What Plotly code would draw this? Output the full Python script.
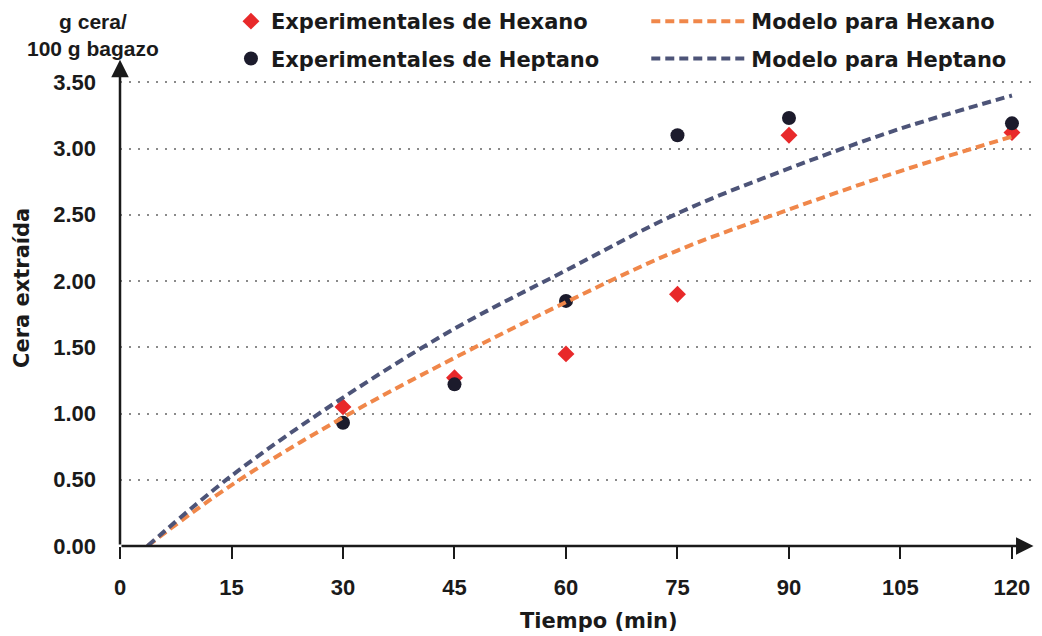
import plotly.graph_objects as go

# Experimental extraction data (g cera / 100 g bagazo)
tiempo_exp = [30, 45, 60, 75, 90, 120]
cera_hexano = [1.05, 1.27, 1.45, 1.90, 3.10, 3.12]
cera_heptano = [0.93, 1.22, 1.85, 3.10, 3.23, 3.19]

# Model curves
tiempo_modelo = [3.7, 15, 30, 45, 60, 75, 90, 105, 120]
modelo_hexano = [0.00, 0.46, 0.97, 1.42, 1.84, 2.23, 2.54, 2.83, 3.09]
modelo_heptano = [0.00, 0.53, 1.12, 1.64, 2.08, 2.51, 2.85, 3.15, 3.40]

x_ticks = [0, 15, 30, 45, 60, 75, 90, 105, 120]
y_ticks = [0.0, 0.5, 1.0, 1.5, 2.0, 2.5, 3.0, 3.5]

TICK_FONT = "Liberation Sans, Arial, sans-serif"
WIDE_FONT = "DejaVu Sans, Verdana, sans-serif"
INK = "#1a1a1a"
RED = "#e8292a"
NAVY = "#1c1b2c"
ORANGE = "#f0874a"
SLATE = "#4d5478"

fig = go.Figure()

fig.add_trace(go.Scatter(
    x=tiempo_exp, y=cera_hexano, mode="markers",
    name="Experimentales de Hexano", legend="legend", legendgroup="a",
    marker=dict(symbol="diamond", size=13, color=RED),
))
fig.add_trace(go.Scatter(
    x=tiempo_exp, y=cera_heptano, mode="markers",
    name="Experimentales de Heptano", legend="legend", legendgroup="b",
    marker=dict(symbol="circle", size=14, color=NAVY),
))
fig.add_trace(go.Scatter(
    x=tiempo_modelo, y=modelo_hexano, mode="lines",
    name="Modelo para Hexano", legend="legend2", legendgroup="c",
    line=dict(color=ORANGE, width=4, dash="9px,5px", shape="spline", smoothing=1.0),
))
fig.add_trace(go.Scatter(
    x=tiempo_modelo, y=modelo_heptano, mode="lines",
    name="Modelo para Heptano", legend="legend2", legendgroup="d",
    line=dict(color=SLATE, width=4, dash="9px,5px", shape="spline", smoothing=1.0),
))

legend_font = dict(family=WIDE_FONT, size=21, color=INK, weight="bold")
tick_font = dict(family=TICK_FONT, size=22, color=INK, weight="bold")

fig.update_layout(
    width=1042, height=636,
    margin=dict(l=120, r=11, t=62, b=90, autoexpand=False),
    paper_bgcolor="white", plot_bgcolor="white",
    showlegend=True,
    legend=dict(
        x=0.1218, y=1.126, xanchor="left", yanchor="top",
        font=legend_font, bgcolor="rgba(0,0,0,0)",
        traceorder="grouped", tracegroupgap=7, itemwidth=30,
    ),
    legend2=dict(
        x=0.5777, y=1.126, xanchor="left", yanchor="top",
        font=legend_font, bgcolor="rgba(0,0,0,0)",
        traceorder="grouped", tracegroupgap=7, itemwidth=95,
    ),
    xaxis=dict(
        range=[0, 122.56], tickvals=x_ticks, ticktext=[str(v) for v in x_ticks],
        ticks="outside", ticklen=12, tickwidth=2, tickcolor=INK,
        showgrid=False, zeroline=False, showline=False,
        ticklabelstandoff=10, tickfont=tick_font,
    ),
    yaxis=dict(
        range=[0, 3.653], tickvals=y_ticks, tickformat=".2f",
        ticks="", showgrid=True, gridcolor="#8a8a8a", gridwidth=2,
        griddash="2px,7px", zeroline=False, showline=False,
        ticklabelstandoff=23, tickfont=tick_font,
    ),
)

# Axis lines with arrowheads
fig.add_annotation(x=122.9, y=0, ax=0, ay=0, xref="x", yref="y", axref="x", ayref="y",
                   text="", showarrow=True, arrowhead=2, arrowsize=1.4,
                   arrowwidth=2.5, arrowcolor=INK)
fig.add_annotation(x=0, y=3.67, ax=0, ay=0, xref="x", yref="y", axref="x", ayref="y",
                   text="", showarrow=True, arrowhead=2, arrowsize=1.4,
                   arrowwidth=2.5, arrowcolor=INK)

# Axis titles
fig.add_annotation(x=-0.0296, y=1.0558, xref="paper", yref="paper",
                   text="g cera/<br>100 g bagazo", showarrow=False,
                   font=dict(family=TICK_FONT, size=21, color=INK, weight="bold"),
                   xanchor="center", yanchor="middle", align="center")
fig.add_annotation(x=-0.1076, y=0.533, xref="paper", yref="paper", text="Cera extraída",
                   textangle=-90, showarrow=False, font=legend_font,
                   xanchor="center", yanchor="middle")
fig.add_annotation(x=0.5258, y=-0.155, xref="paper", yref="paper", text="Tiempo (min)",
                   showarrow=False, font=legend_font, xanchor="center", yanchor="middle")

fig.write_html("out.html")
